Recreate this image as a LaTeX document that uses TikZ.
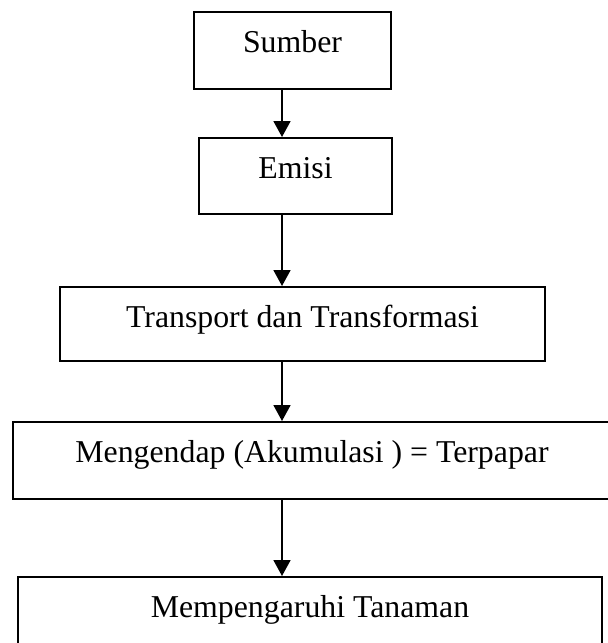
\documentclass[tikz,border=0pt]{standalone}
\usepackage{fontspec}
\setmainfont{Liberation Serif}
\usetikzlibrary{arrows.meta}
\begin{document}
\begin{tikzpicture}[x=1pt,y=-1pt,
  flowbox/.style={draw, line width=1.8pt, anchor=north, inner xsep=0pt, inner ysep=0pt,
    text height=41pt, font=\fontsize{31.8}{38}\selectfont},
  flowarrow/.style={line width=1.8pt, -{Triangle[width=17pt,length=16pt]}}]
  \useasboundingbox (0,0) rectangle (608,643);
  \clip (0,0) rectangle (608,643);

  % column along which the arrows run
  \coordinate (col) at (282,0);

  \node[flowbox, minimum width=197pt, text depth=36pt] (sumber) at (292.5,11) {Sumber};
  \node[flowbox, minimum width=193pt, text depth=35pt] (emisi) at (295.5,137) {Emisi};
  \node[flowbox, minimum width=485pt, text depth=33pt] (transport) at (302.5,286) {Transport dan Transformasi};
  \node[flowbox, minimum width=598pt, text depth=36pt] (mengendap) at (312,421) {Mengendap (Akumulasi ) = Terpapar};
  \node[flowbox, minimum width=584pt, text depth=40pt] (tanaman) at (310,576) {Mempengaruhi Tanaman};

  \draw[flowarrow] (sumber.south -| col) -- (emisi.north -| col);
  \draw[flowarrow] (emisi.south -| col) -- (transport.north -| col);
  \draw[flowarrow] (transport.south -| col) -- (mengendap.north -| col);
  \draw[flowarrow] (mengendap.south -| col) -- (tanaman.north -| col);
\end{tikzpicture}
\end{document}
